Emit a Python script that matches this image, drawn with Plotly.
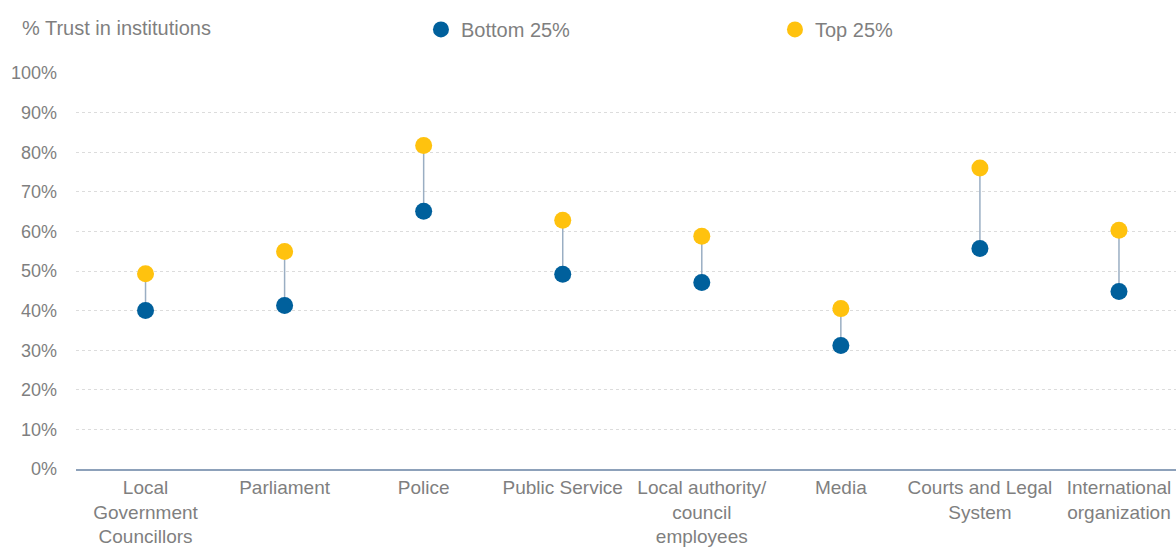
import plotly.graph_objects as go

categories = [
    "Local<br>Government<br>Councillors",
    "Parliament",
    "Police",
    "Public Service",
    "Local authority/<br>council<br>employees",
    "Media",
    "Courts and Legal<br>System",
    "International<br>organization",
]
bottom_25 = [0.400, 0.413, 0.651, 0.492, 0.471, 0.312, 0.557, 0.448]
top_25 = [0.493, 0.549, 0.817, 0.628, 0.588, 0.405, 0.760, 0.603]
y_ticks = [0.0, 0.1, 0.2, 0.3, 0.4, 0.5, 0.6, 0.7, 0.8, 0.9, 1.0]
y_tick_labels = ["0%", "10%", "20%", "30%", "40%", "50%", "60%", "70%", "80%", "90%", "100%"]

FONT = "Liberation Sans, Arial, sans-serif"
GREY = "#7F7F7F"
BLUE = "#00609C"
GOLD = "#FFC20E"

x_idx = list(range(len(categories)))

# vertical connectors between the two groups
conn_x, conn_y = [], []
for i, (b, t) in enumerate(zip(bottom_25, top_25)):
    conn_x += [i, i, None]
    conn_y += [b, t, None]

fig = go.Figure()
fig.add_trace(go.Scatter(
    x=conn_x, y=conn_y, mode="lines",
    line=dict(color="#9AAEC3", width=1.5),
    showlegend=False, hoverinfo="skip",
))
fig.add_trace(go.Scatter(
    x=x_idx, y=bottom_25, mode="markers", name="Bottom 25%",
    marker=dict(color=BLUE, size=17),
))
fig.add_trace(go.Scatter(
    x=x_idx, y=top_25, mode="markers", name="Top 25%",
    marker=dict(color=GOLD, size=17),
))

fig.update_layout(
    width=1176, height=550,
    margin=dict(l=76, r=0, t=73, b=81),
    paper_bgcolor="white", plot_bgcolor="white",
    font=dict(family=FONT, size=18, color=GREY),
    showlegend=True,
    legend=dict(
        orientation="h", x=0.3136, xanchor="left", y=0.982, yanchor="top",
        yref="container", entrywidth=309, entrywidthmode="pixels",
        font=dict(family=FONT, size=20, color=GREY),
        itemwidth=30, tracegroupgap=0,
        bgcolor="rgba(0,0,0,0)",
    ),
    annotations=[dict(
        text="% Trust in institutions", xref="paper", yref="paper",
        x=-0.0509, y=1.1136, xanchor="left", yanchor="middle",
        showarrow=False, font=dict(family=FONT, size=20, color=GREY),
    )],
)
fig.update_xaxes(
    range=[-0.5, 7.41], tickmode="array", tickvals=x_idx, ticktext=categories,
    showgrid=False, zeroline=False, showline=True, linecolor="#8DA1BA", linewidth=2,
    ticks="", tickangle=0, automargin=False,
    tickfont=dict(family=FONT, size=19, color=GREY), fixedrange=True,
)
fig.update_yaxes(
    range=[0, 1], tickmode="array", tickvals=y_ticks, ticktext=y_tick_labels,
    showgrid=True, gridcolor="#DCDCDC", griddash="dot", gridwidth=1,
    zeroline=False, showline=False, ticks="", ticklabelstandoff=18, automargin=False,
    tickfont=dict(family=FONT, size=18, color=GREY), fixedrange=True,
)

fig.write_html("out.html")
